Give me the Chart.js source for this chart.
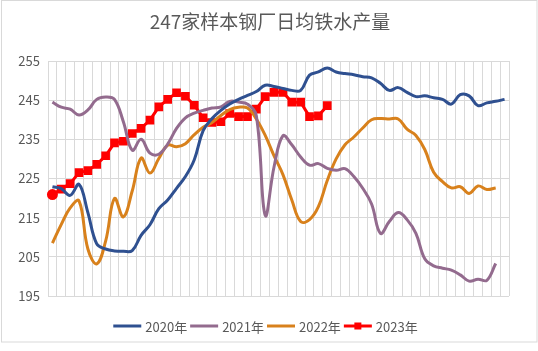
<!DOCTYPE html>
<html>
<head>
<meta charset="utf-8">
<script src="https://cdn.jsdelivr.net/npm/chart.js@4/dist/chart.umd.min.js"></script>
<style>
  html, body { margin: 0; padding: 0; background: #fff; }
  #wrap { width: 538px; height: 351px; }
</style>
</head>
<body>
<div id="wrap"><canvas id="c" width="538" height="351"></canvas></div>
<script>
// 周次（横轴不显示标签）
const weeks = ['1','2','3','4','5','6','7','8','9','10','11','12','13','14','15','16','17','18','19','20',
  '21','22','23','24','25','26','27','28','29','30','31','32','33','34','35','36','37','38','39','40',
  '41','42','43','44','45','46','47','48','49','50','51','52'];

const seriesNames = ['2020年', '2021年', '2022年', '2023年'];
const yTicks = [195, 205, 215, 225, 235, 245, 255];

const y2020 = [222.9, 222.4, 220.7, 223.5, 216.3, 208.3, 207.0, 206.5, 206.4, 206.6,
  210.5, 213.2, 217.3, 219.5, 222.5, 225.5, 229.8, 237.2, 240.3, 242.4,
  244.0, 245.2, 246.2, 247.2, 248.8, 248.5, 248.0, 247.5, 247.5, 251.4,
  252.2, 253.2, 252.2, 251.8, 251.5, 251.0, 250.7, 249.3, 247.5, 248.2,
  247.0, 245.9, 246.1, 245.6, 245.2, 244.0, 246.4, 246.1, 243.6, 244.3,
  244.7, 245.2];

const y2021 = [244.5, 243.2, 242.7, 241.2, 242.5, 245.2, 245.8, 245.2, 239.5, 232.2,
  235.0, 231.5, 231.2, 233.8, 237.8, 240.5, 241.7, 242.4, 243.0, 243.3,
  244.7, 244.5, 244.0, 241.0, 215.6, 228.0, 235.9, 233.6, 230.5, 228.4,
  228.8, 227.6, 227.1, 227.5, 225.5, 222.5, 218.5, 211.0, 214.0, 216.3,
  214.5, 211.0, 204.5, 202.7, 202.1, 201.6, 200.4, 198.8, 199.3, 199.0,
  203.3];

const y2022 = [208.5, 213.3, 217.5, 219.3, 207.0, 203.2, 209.0, 219.9, 215.2, 221.8,
  230.2, 226.4, 230.1, 233.5, 233.1, 233.9, 236.2, 238.1, 239.3, 241.1,
  242.6, 243.2, 243.0, 240.2, 236.0, 230.8, 226.0, 219.5, 214.0, 214.5,
  217.8, 224.5, 230.0, 233.6, 235.6, 237.9, 240.0, 240.3, 240.2, 240.2,
  237.6, 236.0, 232.4, 226.6, 224.2, 222.6, 222.9, 221.2, 223.1, 222.2,
  222.6];

const y2023 = [220.9, 222.3, 223.7, 226.5, 227.0, 228.6, 230.8, 234.1, 234.5, 236.5,
  237.8, 239.9, 243.3, 245.2, 246.9, 246.0, 243.7, 240.5, 239.3, 239.5,
  241.6, 240.8, 240.8, 242.7, 245.9, 247.0, 247.0, 244.5, 244.5, 240.8,
  241.0, 243.6];

const colors = ['#2F5090', '#936B8E', '#D8811C', '#FF0000'];
const FONT = "'Microsoft YaHei', 'Noto Sans CJK SC', sans-serif";
const GRID = '#D9D9D9';

// 标题、图例、外框
const decorPlugin = {
    id: 'decor',
    beforeDraw(chart) {
        const ctx = chart.ctx;
        ctx.save();
        ctx.fillStyle = '#fff';
        ctx.fillRect(0, 0, chart.width, chart.height);
        ctx.strokeStyle = GRID;
        ctx.lineWidth = 1;
        ctx.strokeRect(1.5, 0.5, 535.5, 341.5);
        ctx.restore();
    },
    afterDraw(chart) {
        const ctx = chart.ctx;
        ctx.save();
        ctx.fillStyle = '#595959';
        ctx.font = '19px ' + FONT;
        ctx.textAlign = 'center';
        ctx.textBaseline = 'middle';
        ctx.fillText('247家样本钢厂日均铁水产量', 270, 22);

        ctx.font = '13px ' + FONT;
        ctx.textAlign = 'left';
        const lineLen = 28, gapA = 4, gapB = 3;
        const items = chart.data.datasets.map(ds => ({
            label: ds.label, color: ds.borderColor, marker: ds.pointRadius > 0,
            w: lineLen + gapA + ctx.measureText(ds.label).width + gapB
        }));
        const total = items.reduce((s, it) => s + it.w, 0);
        let x = 267 - total / 2;
        const y = 326;
        items.forEach(it => {
            ctx.strokeStyle = it.color;
            ctx.lineWidth = 3;
            ctx.beginPath();
            ctx.moveTo(x, y);
            ctx.lineTo(x + lineLen, y);
            ctx.stroke();
            if (it.marker) {
                ctx.fillStyle = it.color;
                ctx.fillRect(x + lineLen / 2 - 3.5, y - 3.5, 7, 7);
            }
            ctx.fillStyle = '#595959';
            ctx.fillText(it.label, x + lineLen + gapA, y + 1);
            x += it.w;
        });
        ctx.restore();
    }
};

function smoothLine(label, data, color) {
    return {
        label, data,
        borderColor: color, backgroundColor: color,
        borderWidth: 3, pointRadius: 0, tension: 0.4,
        cubicInterpolationMode: 'default', fill: false
    };
}

new Chart(document.getElementById('c'), {
    type: 'line',
    data: {
        labels: weeks,
        datasets: [
            smoothLine(seriesNames[0], y2020, colors[0]),
            smoothLine(seriesNames[1], y2021, colors[1]),
            smoothLine(seriesNames[2], y2022, colors[2]),
            {
                label: seriesNames[3], data: y2023,
                borderColor: colors[3], backgroundColor: colors[3],
                borderWidth: 3, tension: 0,
                pointRadius: 4, pointHoverRadius: 4,
                pointStyle: c => c.dataIndex === 0 ? 'circle' : 'rect',
                fill: false
            }
        ]
    },
    options: {
        responsive: false,
        animation: false,
        devicePixelRatio: 1,
        layout: { padding: { left: 0, right: 29, top: 61, bottom: 55 } },
        plugins: {
            legend: { display: false },
            title: { display: false },
            tooltip: { enabled: false }
        },
        scales: {
            x: {
                type: 'category',
                offset: true,
                grid: { offset: true, color: GRID, drawTicks: false },
                border: { display: false },
                ticks: { display: false }
            },
            y: {
                min: yTicks[0], max: yTicks[yTicks.length - 1],
                afterBuildTicks: s => { s.ticks = yTicks.map(v => ({ value: v })); },
                afterFit: s => { s.width = 48; },
                grid: { color: GRID, drawTicks: false },
                border: { display: false },
                ticks: { color: '#595959', font: { size: 13, family: FONT }, padding: 8 }
            }
        }
    },
    plugins: [decorPlugin]
});
</script>
</body>
</html>
